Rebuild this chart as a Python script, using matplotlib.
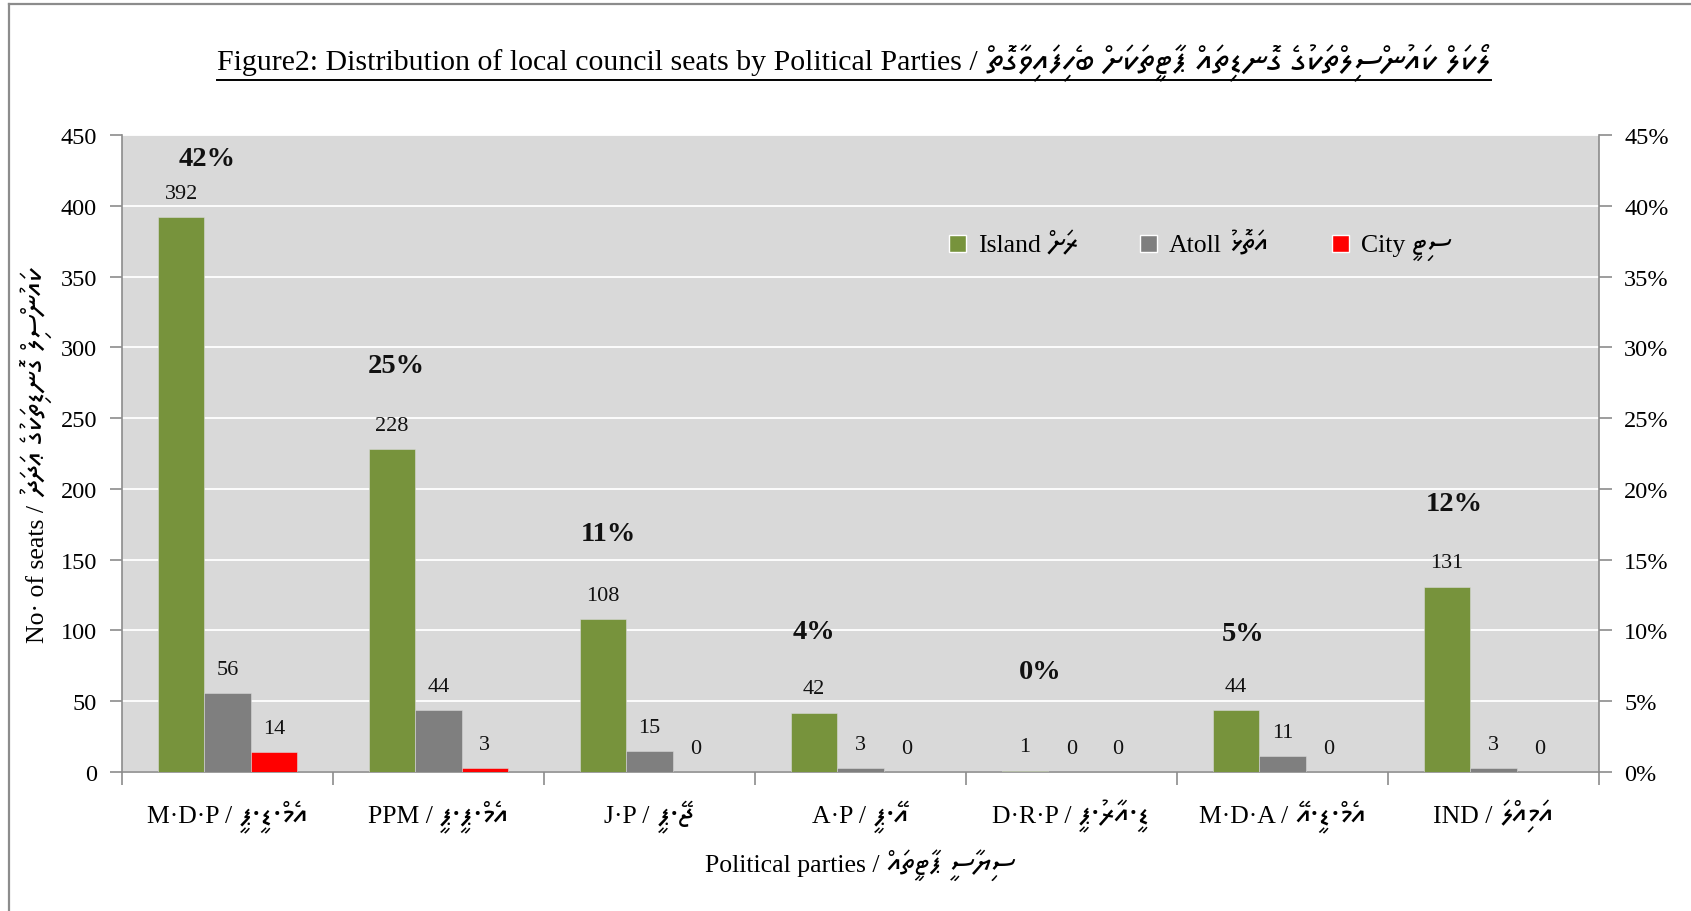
import numpy as np
import matplotlib
matplotlib.use("Agg")
import matplotlib.pyplot as plt
from matplotlib.patches import Rectangle
from matplotlib.lines import Line2D
from matplotlib.ticker import PercentFormatter, FixedLocator
from matplotlib.transforms import IdentityTransform

plt.rcParams['font.family'] = ['Liberation Serif', 'Noto Sans Thaana']

# ---------------- data ----------------
parties_en = ["M·D·P", "PPM", "J·P", "A·P", "D·R·P", "M·D·A", "IND"]
parties_dv = ["އެމް·ޑީ·ޕީ", "އެމް·ޕީ·ޕީ", "ޖޭ·ޕީ", "އޭ·ޕީ", "ޑީ·އާރު·ޕީ", "އެމް·ޑީ·އޭ", "އަމިއްލަ"]
island = [392, 228, 108, 42, 1, 44, 131]
atoll = [56, 44, 15, 3, 0, 11, 3]
city = [14, 3, 0, 0, 0, 0, 0]
series_en = ["Island", "Atoll", "City"]
series_dv = ["ރަށް", "އަތޮޅު", "ސިޓީ"]
seat_ticks = [0, 50, 100, 150, 200, 250, 300, 350, 400, 450]
share_ticks = [0.0, 0.05, 0.10, 0.15, 0.20, 0.25, 0.30, 0.35, 0.40, 0.45]

title_en = "Figure2: Distribution of local council seats by Political Parties /"
title_dv = "ލޯކަލް ކައުންސިލްތަކުގެ ގޮނޑިތައް ޕާޓީތަކަށް ބެހިފައިވާގޮތް"
ylabel_en = "No· of seats /"
ylabel_dv = "ކައުންސިލް ގޮނޑިތަކުގެ ޢަދަދު"
xlabel_en = "Political parties /"
xlabel_dv = "ސިޔާސީ ޕާޓީތައް"


def vis(s):
    """Thaana is written right to left; matplotlib lays text out left to right."""
    return s[::-1]


# ---------------- layout / style ----------------
W, H = 1691, 912
colors = ['#77933c', '#7f7f7f', '#ff0000']
grey = '#8c8c8c'
# offsets (points) of the share labels relative to the top of the Island bar
share_dx = [19, 3, 4, 0, 11, 5, 5]
share_dy = [42, 60, 62, 58, 71, 55, 60]

fig = plt.figure(figsize=(W / 100, H / 100), dpi=100)
ax = fig.add_axes([122 / W, 1 - 773 / H, (1599 - 122) / W, (773 - 136) / H])
ax.set_facecolor('#d9d9d9')

x = np.arange(len(parties_en))
bw = 0.22
for i, (vals, c) in enumerate(zip([island, atoll, city], colors)):
    xs = x + (i - 1) * bw
    ax.bar(xs, vals, bw, color=c, zorder=3, edgecolor='#d9d9d9', linewidth=0.4)
    for xi, v in zip(xs, vals):
        ax.annotate(f"{v}", (xi, v), xytext=(0, 17), textcoords='offset points',
                    ha='center', va='center', fontsize=16, color='#111111')

totals = np.array(island) + np.array(atoll) + np.array(city)
shares = totals / totals.sum()
for xi, v, s, dx, dy in zip(x - bw, island, shares, share_dx, share_dy):
    ax.annotate(f"{s * 100:.0f}%", (xi, v), xytext=(dx, dy), textcoords='offset points',
                ha='center', va='center', fontsize=20.5, fontweight='bold', color='#111111')

ax.set_xlim(-0.5, len(parties_en) - 0.5)
ax.set_ylim(seat_ticks[0], seat_ticks[-1])
ax.yaxis.set_major_locator(FixedLocator(seat_ticks))
ax.grid(axis='y', color='white', lw=1.3)
ax.set_axisbelow(True)

ax.set_xticks(x)
ax.set_xticklabels([""] * len(x))
ax.set_xticks(np.arange(-0.5, len(parties_en)), minor=True)
ax.tick_params(axis='x', which='major', length=0)
ax.tick_params(axis='x', which='minor', length=9, color=grey, width=1.2, direction='out')
ax.tick_params(axis='y', which='major', length=9, color=grey, width=1.2, direction='out',
               labelsize=17.5, pad=9)
for sp in ['top', 'right']:
    ax.spines[sp].set_visible(False)
for sp in ['left', 'bottom']:
    ax.spines[sp].set_color(grey)
    ax.spines[sp].set_linewidth(1.2)

ax2 = ax.twinx()
ax2.set_ylim(share_ticks[0], share_ticks[-1])
ax2.yaxis.set_major_locator(FixedLocator(share_ticks))
ax2.yaxis.set_major_formatter(PercentFormatter(1.0, decimals=0))
ax2.tick_params(axis='y', length=9, color=grey, width=1.2, direction='out', labelsize=17.5, pad=9)
for sp in ['top', 'left', 'bottom']:
    ax2.spines[sp].set_visible(False)
ax2.spines['right'].set_color(grey)
ax2.spines['right'].set_linewidth(1.2)

# ---------- mixed English / Thaana texts ----------
ident = IdentityTransform()
renderer = fig.canvas.get_renderer()


def pair(en, dv, pos, base, size, dv_size, rotation=0, align='center'):
    """English + Thaana text on a common baseline. pos/base in pixels from the top-left."""
    t1 = fig.text(0, 0, en, fontsize=size, family=['Liberation Serif'], ha='left',
                  va='baseline', rotation=rotation, rotation_mode='anchor', transform=ident)
    t2 = fig.text(0, 0, vis(dv), fontsize=dv_size, family=['Noto Sans Thaana', 'Liberation Serif'],
                  ha='left', va='baseline', rotation=rotation, rotation_mode='anchor',
                  transform=ident)
    e1, e2 = t1.get_window_extent(renderer), t2.get_window_extent(renderer)
    w1, w2 = (e1.width, e2.width) if rotation == 0 else (e1.height, e2.height)
    gap = 0.3 * size * 100 / 72
    total = w1 + gap + w2
    if rotation == 0:
        start = pos - total / 2 if align == 'center' else pos
        t1.set_position((start, H - base))
        t2.set_position((start + w1 + gap, H - base))
    else:
        y0 = (H - pos) - total / 2
        t1.set_position((base, y0))
        t2.set_position((base, y0 + w1 + gap))
    return t1, t2


# category labels
for xi, en, dv in zip(x, parties_en, parties_dv):
    cx = ax.transData.transform((xi, 0))[0]
    pair(f"{en} /", dv, cx, 823, 18.5, 23)

# axis titles
pair(xlabel_en, xlabel_dv, 860, 872, 18.5, 22)
pair(ylabel_en, ylabel_dv, 456, 44, 18.5, 22, rotation=90)

# title + underline
t1, t2 = pair(title_en, title_dv, 854, 70, 21.5, 26)
x0 = t1.get_window_extent(renderer).x0
x1 = t2.get_window_extent(renderer).x1
fig.add_artist(Line2D([x0, x1], [H - 81, H - 81], transform=ident, color='black', lw=1.4))

# legend (square + English + Thaana)
for sq_x, c, en, dv in zip([949, 1140, 1332], colors, series_en, series_dv):
    fig.add_artist(Rectangle((sq_x, H - 244 - 8.5), 17, 17, transform=ident,
                             facecolor=c, edgecolor='white', lw=1.0))
    pair(en, dv, sq_x + 29, 252, 18.5, 22, align='left')

# outer frame (top and left edges visible)
fig.add_artist(Line2D([9, 9], [0, H - 5], transform=ident, color=grey, lw=1.6))
fig.add_artist(Line2D([9, W], [H - 5, H - 5], transform=ident, color=grey, lw=1.6))

fig.savefig("out.png", dpi=100, facecolor='white')
